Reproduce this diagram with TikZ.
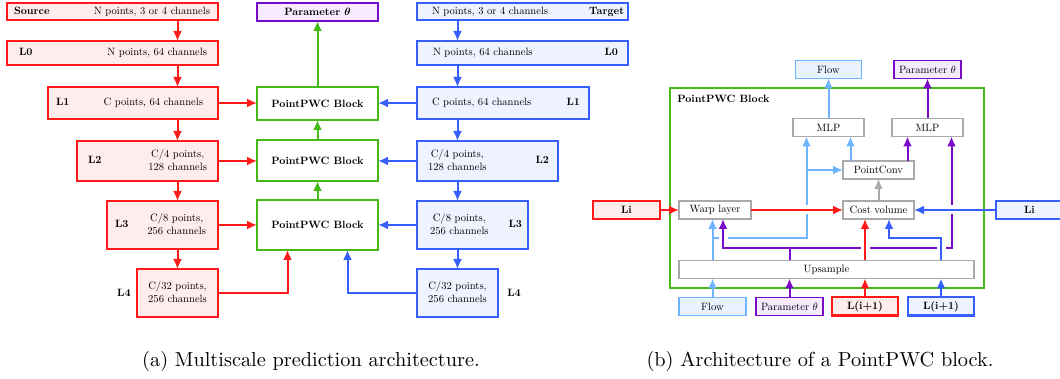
\documentclass[tikz,border=0pt]{standalone}
\usepackage{amsmath}
\usepackage{graphicx}
\usepackage{xcolor}
\usepackage{tikz}
\usetikzlibrary{arrows.meta,positioning,calc}

% 10pt design of Latin Modern at every size (the figure is scaled down)
\DeclareFontFamily{TU}{lmten}{}
\DeclareFontShape{TU}{lmten}{m}{n}{<->"[lmroman10-regular]:+tlig;"}{}
\DeclareFontShape{TU}{lmten}{bx}{n}{<->"[lmroman10-bold]:+tlig;"}{}
\newcommand\boxfont{\fontfamily{lmten}\fontsize{5.3}{6.5}\selectfont}
\newcommand\ptheta{\scalebox{0.53}{\fontsize{10}{12}\selectfont$\theta$}}
\newcommand\bptheta{\scalebox{0.53}{\fontsize{10}{12}\selectfont$\boldsymbol{\theta}$}}
\newcommand\levelrow[5]{\hbox to #1{\hspace*{#2}#3\hfill#4\hspace*{#5}}}
\newcommand\twolines[2]{\begin{tabular}{@{}c@{}}#1\\#2\end{tabular}}

\definecolor{srcred}{RGB}{255,25,25}
\definecolor{srcfill}{RGB}{255,236,236}
\definecolor{tgtblue}{RGB}{55,95,255}
\definecolor{tgtfill}{RGB}{238,243,255}
\definecolor{pwcgreen}{RGB}{70,185,25}
\definecolor{thpurple}{RGB}{120,10,200}
\definecolor{thfill}{RGB}{246,234,255}
\definecolor{flowblue}{RGB}{110,180,255}
\definecolor{flowfill}{RGB}{232,243,255}
\definecolor{opgray}{RGB}{170,170,170}

\begin{document}
\begin{tikzpicture}[x=0.5pt, y=-0.5pt, font=\boxfont,
  blockbase/.style={draw, line width=1pt, inner sep=0pt, outer sep=0pt},
  srcbox/.style={blockbase, draw=srcred, fill=srcfill},
  tgtbox/.style={blockbase, draw=tgtblue, fill=tgtfill},
  pwcbox/.style={blockbase, draw=pwcgreen, fill=white, font=\boxfont\bfseries},
  thetabox/.style={blockbase, draw=thpurple, fill=thfill},
  flowbox/.style={blockbase, line width=0.9pt, draw=flowblue, fill=flowfill},
  opbox/.style={blockbase, line width=0.75pt, draw=opgray, fill=white, minimum height=9pt},
  frame/.style={blockbase, draw=pwcgreen},
  row/.style={minimum height=9pt},
  wire/.style={line width=1pt},
  link/.style={wire, -{Latex[length=5pt,width=4.5pt]}},
  redarrow/.style={link, color=srcred},
  bluearrow/.style={link, color=tgtblue},
  greenarrow/.style={link, color=pwcgreen},
  purline/.style={wire, color=thpurple},
  purarrow/.style={link, color=thpurple},
  flowarrow/.style={link, color=flowblue},
  grayarrow/.style={link, color=opgray},
  bridge/.style={draw=white, line width=2pt},
  caption/.style={font={\normalfont\fontsize{10.15}{12}\selectfont}}]

\useasboundingbox (0,0) rectangle (1060,379);

% (a) source pyramid
\node[srcbox, minimum height=8.5pt, anchor=north east] (src) at (218,3)
  {\levelrow{105.5pt}{3.5pt}{\textbf{Source}}{N points, 3 or 4 channels}{4pt}};
\node[srcbox, minimum height=12pt] (sL0) [below=10.5pt of src.south east, anchor=north east]
  {\levelrow{105.5pt}{6pt}{\textbf{L0}}{N points, 64 channels}{5.5pt}};
\node[srcbox, minimum height=16pt] (sL1) [below=11pt of sL0.south east, anchor=north east]
  {\levelrow{85pt}{4pt}{\textbf{L1}}{C points, 64 channels}{7.5pt}};
\node[srcbox, minimum height=20pt] (sL2) [below=11pt of sL1.south east, anchor=north east]
  {\levelrow{70.5pt}{5.5pt}{\textbf{L2}}{\twolines{C/4 points,}{128 channels}}{5.5pt}};
\node[srcbox, minimum height=24pt] (sL3) [below=10pt of sL2.south east, anchor=north east]
  {\levelrow{55.5pt}{4pt}{\textbf{L3}}{\twolines{C/8 points,}{256 channels}}{6pt}};
\node[srcbox, minimum height=24pt, minimum width=40.5pt,
  label={[inner sep=0pt, label distance=3pt, font=\boxfont\bfseries]west:L4}]
  (sL4) [below=10pt of sL3.south east, anchor=north east]
  {\twolines{C/32 points,}{256 channels}};

% (a) target pyramid
\node[tgtbox, minimum height=8.5pt, anchor=north west] (tgt) at (417,3)
  {\levelrow{105.5pt}{7.5pt}{N points, 3 or 4 channels}{\textbf{Target}}{2pt}};
\node[tgtbox, minimum height=12pt] (tL0) [below=10.5pt of tgt.south west, anchor=north west]
  {\levelrow{105.5pt}{8pt}{N points, 64 channels}{\textbf{L0}}{5pt}};
\node[tgtbox, minimum height=16pt] (tL1) [below=11pt of tL0.south west, anchor=north west]
  {\levelrow{86pt}{7.5pt}{C points, 64 channels}{\textbf{L1}}{4.5pt}};
\node[tgtbox, minimum height=20pt] (tL2) [below=11pt of tL1.south west, anchor=north west]
  {\levelrow{70.5pt}{5.5pt}{\twolines{C/4 points,}{128 channels}}{\textbf{L2}}{4.5pt}};
\node[tgtbox, minimum height=24pt] (tL3) [below=10pt of tL2.south west, anchor=north west]
  {\levelrow{55.5pt}{6.5pt}{\twolines{C/8 points,}{256 channels}}{\textbf{L3}}{3pt}};
\node[tgtbox, minimum height=24pt, minimum width=40.5pt,
  label={[inner sep=0pt, label distance=4.5pt, font=\boxfont\bfseries]east:L4}]
  (tL4) [below=10pt of tL3.south west, anchor=north west]
  {\twolines{C/32 points,}{256 channels}};

% (a) PointPWC blocks
\node[pwcbox, minimum width=60.5pt, minimum height=16.5pt, anchor=north] (blk1) at (317.5,87) {PointPWC Block};
\node[pwcbox, minimum width=60.5pt, minimum height=20.5pt] (blk2) [below=10pt of blk1] {PointPWC Block};
\node[pwcbox, minimum width=60.5pt, minimum height=25pt] (blk3) [below=9.5pt of blk2] {PointPWC Block};
\node[thetabox, minimum width=60.5pt, minimum height=9pt] (theta) [above=33pt of blk1] {\textbf{Parameter \bptheta}};

\path[redarrow]
  (src.south -| sL4) edge (sL0.north -| sL4)
  (sL0.south -| sL4) edge (sL1.north -| sL4)
  (sL1.south -| sL4) edge (sL2.north -| sL4)
  (sL2.south -| sL4) edge (sL3.north -| sL4)
  (sL3.south -| sL4) edge (sL4.north)
  (sL1.east) edge (sL1.east -| blk1.west)
  (sL2.east) edge (sL2.east -| blk2.west)
  (sL3.east) edge (sL3.east -| blk3.west);
\draw[redarrow] (sL4.east) -| ($(blk3.south)+(-30,0)$);

\path[bluearrow]
  (tgt.south -| tL4) edge (tL0.north -| tL4)
  (tL0.south -| tL4) edge (tL1.north -| tL4)
  (tL1.south -| tL4) edge (tL2.north -| tL4)
  (tL2.south -| tL4) edge (tL3.north -| tL4)
  (tL3.south -| tL4) edge (tL4.north)
  (tL1.west) edge (tL1.west -| blk1.east)
  (tL2.west) edge (tL2.west -| blk2.east)
  (tL3.west) edge (tL3.west -| blk3.east);
\draw[bluearrow] (tL4.west) -| ($(blk3.south)+(30,0)$);

\path[greenarrow]
  (blk3) edge (blk2)
  (blk2) edge (blk1)
  (blk1) edge (theta);

% (b) inside a PointPWC block
\node[frame, minimum width=157pt, minimum height=100pt, anchor=north west,
  label={[anchor=north west, inner sep=0pt, xshift=3.5pt, yshift=-3.5pt, font=\boxfont\bfseries]north west:PointPWC Block}]
  (pwc) at (670,88) {};
\node[opbox, minimum width=36pt] (warp) at (715,210) {Warp layer};
\node[opbox, minimum width=35.5pt] (cost) at (878.5,210) {Cost volume};
\node[opbox, minimum width=35.5pt] (pconv) [above=11pt of cost] {PointConv};
\node[opbox, minimum width=35.5pt] (mlpL) at (828.5,127.5) {MLP};
\node[opbox, minimum width=35.5pt] (mlpR) [right=14pt of mlpL] {MLP};
\node[flowbox, row, minimum width=33pt] (flowT) [above=20pt of mlpL] {Flow};
\node[thetabox, row, line width=0.9pt, minimum width=33.5pt] (thetaT) [above=20pt of mlpR] {Parameter \ptheta};
\node[opbox, minimum width=147.5pt] (ups) at (826.5,269.5) {Upsample};
\node[srcbox, row, minimum width=33.5pt] (liR) [left=9.5pt of warp] {\textbf{Li}};
\node[tgtbox, row, minimum width=33.5pt] (liB) [right=41pt of cost] {\textbf{Li}};
\node[flowbox, row, minimum width=33.5pt] (fB) [below=9.5pt of ups.south west, anchor=north west] {Flow};
\node[thetabox, row, line width=0.9pt, minimum width=33.5pt] (pB) [right=5pt of fB] {Parameter \ptheta};
\node[srcbox, row, minimum width=33pt] (rB) [right=4.5pt of pB] {\textbf{L(i+1)}};
\node[tgtbox, row, minimum width=33pt] (bB) [right=5pt of rB] {\textbf{L(i+1)}};

\coordinate (lbJ) at ($(ups.north -| fB)+(0,-22)$);
\coordinate (lbV) at ($(mlpL.south)+(-22,0)$);
\coordinate (lbP) at ($(mlpL.south)+(22,0)$);
\coordinate (puJ) at ($(ups.north -| pB)+(0,-12)$);
\coordinate (puW) at ($(warp.south)+(8,0)$);
\coordinate (puP) at ($(mlpR.south)+(-20,0)$);
\coordinate (puV) at ($(mlpR.south)+(24,0)$);
\coordinate (blJ) at ($(ups.north -| bB)+(0,-22)$);
\coordinate (blC) at ($(cost.south)+(10.5,0)$);

% flow path
\path[flowarrow]
  (fB) edge (fB |- ups.south)
  (ups.north -| fB) edge (warp.south -| fB)
  (pconv.north -| lbP) edge (lbP)
  (mlpL) edge (flowT)
  (lbV |- pconv) edge (pconv.west);
\draw[flowarrow] (lbJ) -| (lbV);
\coordinate (x3) at (puW |- lbJ);
\draw[bridge] ($(x3)+(-4.5,0)$) -- ($(x3)+(4.5,0)$);

% parameter path
\path[purarrow]
  (pB) edge (pB |- ups.south)
  (pconv.north -| puP) edge (puP)
  (mlpR) edge (thetaT);
\draw[purline] (ups.north -| pB) -- (puJ);
\draw[purarrow] (puJ) -| (puW);
\draw[purarrow] (puJ) -| (puV);

% gaps where lines cross
\coordinate (x1) at (lbV |- warp);
\coordinate (x2) at (puV |- cost);
\coordinate (x4) at (rB |- puJ);
\coordinate (x5) at (bB |- puJ);
\draw[bridge] ($(x1)+(0,-4.5)$) -- ($(x1)+(0,4.5)$);
\draw[bridge] ($(x2)+(0,-4.5)$) -- ($(x2)+(0,4.5)$);
\draw[bridge] ($(x4)+(-4.5,0)$) -- ($(x4)+(4.5,0)$);
\draw[bridge] ($(x5)+(-4.5,0)$) -- ($(x5)+(4.5,0)$);

% source and target features
\path[redarrow]
  (liR) edge (warp)
  (warp) edge (cost)
  (rB) edge (rB |- ups.south)
  (ups.north -| rB) edge (cost.south -| rB);
\path[bluearrow]
  (liB) edge (cost)
  (bB) edge (bB |- ups.south);
\draw[bluearrow] (ups.north -| bB) |- (blJ -| blC) -- (blC);
\draw[grayarrow] (cost) -- (pconv);

\node[caption] (capA) at (311,361) {(a) Multiscale prediction architecture.};
\node[caption] (capB) at (820,361) {(b) Architecture of a PointPWC block.};
\end{tikzpicture}
\end{document}
